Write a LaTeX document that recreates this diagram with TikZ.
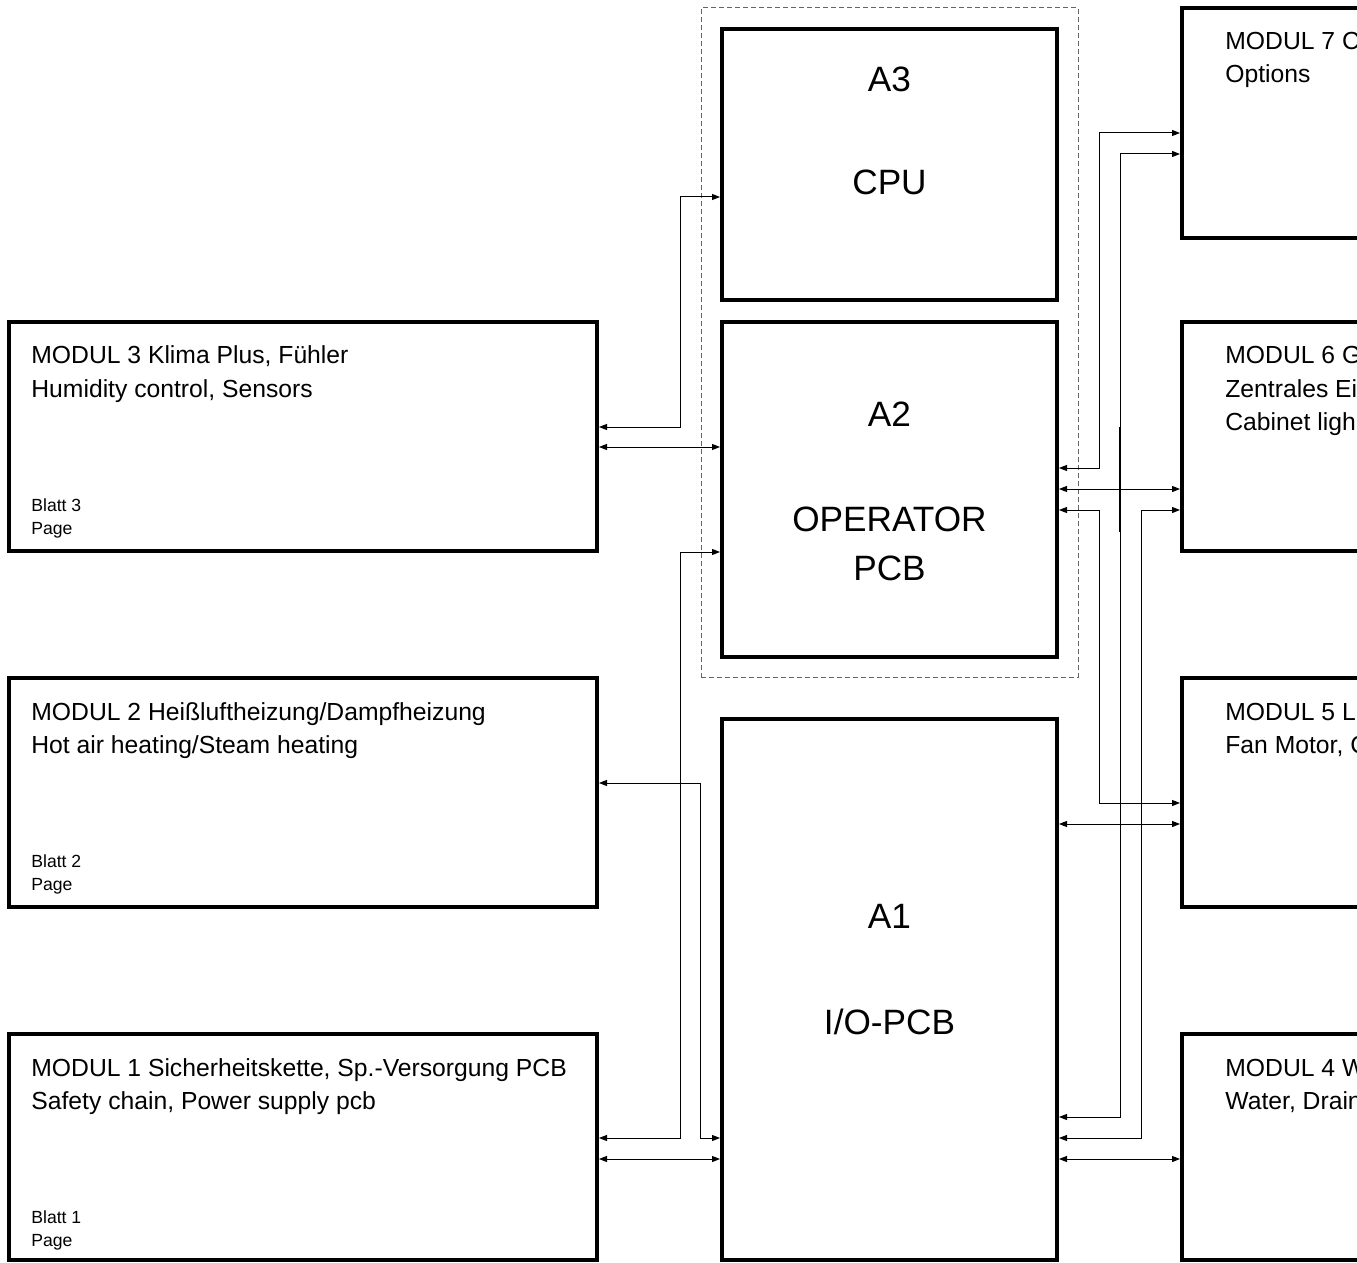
\documentclass[tikz,border=0pt]{standalone}
\usepackage{fontspec}
\setmainfont{Liberation Sans}
\usetikzlibrary{arrows.meta}
\begin{document}
\begin{tikzpicture}[x=0.5pt,y=-0.5pt,
  >={Triangle[length=4pt,width=3pt]},
  blk/.style={draw, line width=2pt, rectangle, inner sep=0pt},
  grpbox/.style={draw=black!60, dash pattern=on 2.5pt off 1.5pt, line width=0.5pt, rectangle, inner sep=0pt},
  conn/.style={line width=0.5pt, <->},
  lbl/.style={anchor=base west, inner sep=0pt, font=\fontsize{12.35}{15}\selectfont},
  sml/.style={anchor=base west, inner sep=0pt, font=\fontsize{8.8}{11}\selectfont},
  big/.style={anchor=base, inner sep=0pt, font=\fontsize{17.6}{21}\selectfont}]
\useasboundingbox (0,0) rectangle (1357,1263);
\fill[white] (0,0) rectangle (1357,1263);
\clip (0,0) rectangle (1357,1263);

% dashed group
\node[grpbox, minimum width=188.5pt, minimum height=334.5pt] (grp) at (889.5,342.5) {};

% left modules
\node[blk, minimum width=294pt, minimum height=114.5pt] (m3) at (303,436.5) {};
\node[blk, minimum width=294pt, minimum height=114.5pt] (m2) at (303,792.5) {};
\node[blk, minimum width=294pt, minimum height=113pt] (m1) at (303,1147) {};

% central boards
\node[blk, minimum width=167.5pt, minimum height=135.5pt] (a3) at (889.5,164.5) {};
\node[blk, minimum width=167.5pt, minimum height=167.5pt] (a2) at (889.5,489.5) {};
\node[blk, minimum width=167.5pt, minimum height=270.5pt] (a1) at (889.5,989.5) {};

% right modules
\node[blk, minimum width=209pt, minimum height=115pt] (m7) at (1391,123) {};
\node[blk, minimum width=209pt, minimum height=114.5pt] (m6) at (1391,436.5) {};
\node[blk, minimum width=209pt, minimum height=114.5pt] (m5) at (1391,792.5) {};
\node[blk, minimum width=209pt, minimum height=113pt] (m4) at (1391,1147) {};

% texts left
\node[lbl] (t3a) at (31,364) {MODUL 3 Klima Plus, Fühler};
\node[lbl] (t3b) at (31,397) {Humidity control, Sensors};
\node[sml] (p3a) at (31,511) {Blatt 3};
\node[sml] (p3b) at (31,534) {Page};

\node[lbl] (t2a) at (31,720) {MODUL 2 Heißluftheizung/Dampfheizung};
\node[lbl] (t2b) at (31,753) {Hot air heating/Steam heating};
\node[sml] (p2a) at (31,867) {Blatt 2};
\node[sml] (p2b) at (31,890) {Page};

\node[lbl] (t1a) at (31,1076) {MODUL 1 Sicherheitskette, Sp.-Versorgung PCB};
\node[lbl] (t1b) at (31,1109) {Safety chain, Power supply pcb};
\node[sml] (p1a) at (31,1223) {Blatt 1};
\node[sml] (p1b) at (31,1246) {Page};

% texts right
\node[lbl] (t7a) at (1225,50) {MODUL 7 C};
\node[lbl] (t7b) at (1225,83) {Options};
\node[lbl] (t6a) at (1225,364) {MODUL 6 G};
\node[lbl] (t6b) at (1225,397) {Zentrales Ei};
\node[lbl] (t6c) at (1225,430) {Cabinet ligh};
\node[lbl] (t5a) at (1225,720) {MODUL 5 L};
\node[lbl] (t5b) at (1225,753) {Fan Motor, C};
\node[lbl] (t4a) at (1225,1076) {MODUL 4 W};
\node[lbl] (t4b) at (1225,1109) {Water, Drain};

% board texts
\node[big] (ta3) at (889.5,92) {A3};
\node[big] (tcpu) at (889.5,195) {CPU};
\node[big] (ta2) at (889.5,426.5) {A2};
\node[big] (top) at (889.5,531.5) {OPERATOR};
\node[big] (tpcb) at (889.5,580.5) {PCB};
\node[big] (ta1) at (889.5,928.5) {A1};
\node[big] (tio) at (889.5,1034.5) {I/O-PCB};

% left connectors
\draw[conn] (m3.east |- 0,427) -| (680,197) -- (a3.west |- 0,197);
\draw[conn] (m3.east |- 0,447) -- (a2.west |- 0,447);
\draw[conn] (m1.east |- 0,1138) -| (680,552) -- (a2.west |- 0,552);
\draw[conn] (m2.east |- 0,783) -| (700,1138) -- (a1.west |- 0,1138);
\draw[conn] (m1.east |- 0,1159) -- (a1.west |- 0,1159);

% right connectors
\draw[conn] (a2.east |- 0,468) -| (1099,133) -- (m7.west |- 0,133);
\draw[conn] (m7.west |- 0,154) -| (1120,1117) -- (a1.east |- 0,1117);
\draw[conn] (a2.east |- 0,489) -- (m6.west |- 0,489);
\draw[conn] (a2.east |- 0,510) -| (1099,803) -- (m5.west |- 0,803);
\draw[conn] (m6.west |- 0,510) -| (1141,1138) -- (a1.east |- 0,1138);
\draw[conn] (a1.east |- 0,824) -- (m5.west |- 0,824);
\draw[conn] (a1.east |- 0,1159) -- (m4.west |- 0,1159);
\draw[line width=0.9pt] (1120,427) -- (1120,532);
\end{tikzpicture}
\end{document}
